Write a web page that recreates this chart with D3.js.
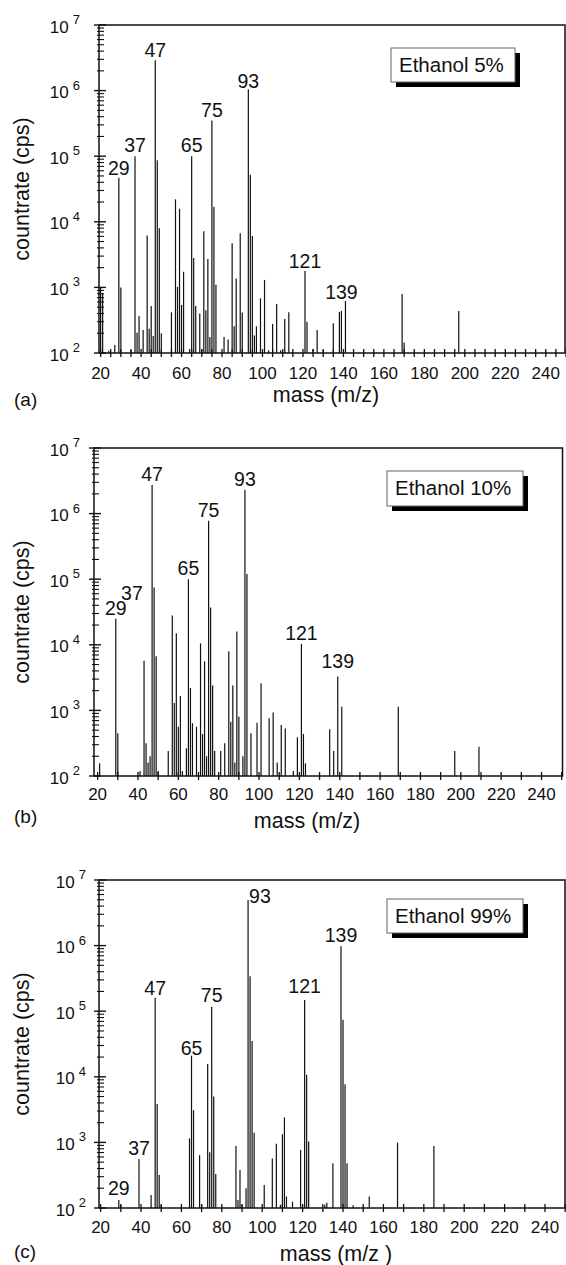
<!DOCTYPE html>
<html>
<head>
<meta charset="utf-8">
<script src="https://cdn.jsdelivr.net/npm/d3@7"></script>
<style>
  body { margin: 0; background: #fff; }
  text { font-family: "Liberation Sans", Arial, Helvetica, sans-serif; fill: #111; }
</style>
</head>
<body>
<svg id="chart" width="566" height="1265"></svg>
<script>
// Spectrum (a): ethanol 5%
const massA = [20, 21, 24, 27, 29, 30, 35, 37, 38, 39, 41, 43, 44, 45, 46, 47, 48, 49, 50, 55, 57, 58, 59, 60, 61,
  64, 65, 66, 67, 69, 70, 71, 72, 73, 74, 75, 76, 77, 81, 83, 85, 86, 87, 89, 90, 93, 94, 95, 96, 97, 99, 101,
  103, 105, 107, 109, 111, 113, 121, 122, 125, 127, 130, 135, 138, 139, 141, 169, 170, 197];
const countA = [1000, 800, 108, 132, 47000, 1000, 110, 100000, 204, 367, 224, 6200, 235, 520, 182, 2900000, 87000,
  8000, 200, 417, 22000, 1020, 15800, 540, 1730, 115, 100000, 2800, 520, 400, 115, 7200, 450, 2700, 175, 350000,
  17000, 1100, 175, 160, 4700, 255, 1370, 6700, 415, 1050000, 52000, 6100, 185, 255, 680, 1300, 110, 277, 560,
  110, 330, 417, 1780, 300, 115, 224, 110, 284, 420, 437, 620, 794, 144, 437];

// Spectrum (b): ethanol 10%
const massB = [21, 29, 30, 41, 43, 44, 45, 46, 47, 48, 49, 50, 55, 57, 58, 59, 60, 61, 62, 64, 65, 66, 67, 69, 71,
  72, 73, 74, 75, 76, 77, 78, 81, 83, 85, 86, 87, 88, 89, 90, 92, 93, 94, 96, 99, 101, 105, 107, 109, 111, 113,
  117, 119, 121, 122, 123, 135, 137, 139, 141, 169, 197, 209];
const countB = [156, 25000, 447, 119, 5700, 315, 160, 200, 2730000, 75000, 6700, 119, 240, 28000, 1300, 15000, 565,
  1660, 119, 264, 100000, 2200, 637, 565, 10500, 437, 5600, 200, 780000, 37000, 2400, 240, 240, 315, 8000, 670,
  2400, 160, 16000, 800, 200, 2300000, 120000, 447, 650, 2600, 760, 925, 160, 600, 530, 119, 390, 10300, 437,
  156, 515, 240, 3300, 1140, 1140, 240, 280];

// Spectrum (c): ethanol 99%
const massC = [29, 30, 39, 45, 47, 48, 49, 50, 64, 65, 66, 69, 70, 73, 74, 75, 76, 77, 87, 88, 89, 90, 92, 93, 94,
  95, 96, 101, 105, 107, 109, 110, 111, 112, 115, 119, 121, 122, 123, 131, 132, 135, 139, 140, 141, 142, 145,
  153, 167, 185];
const countC = [132, 112, 558, 158, 160000, 3850, 318, 112, 1150, 21000, 3100, 640, 112, 15700, 705, 117000, 5000,
  330, 880, 132, 380, 112, 200, 4960000, 340000, 35000, 1400, 225, 570, 950, 112, 1330, 2400, 150, 125, 765,
  148000, 10700, 1030, 112, 120, 480, 980000, 74000, 7700, 480, 110, 150, 990, 880];

// Peak labels: text, mass it stands over, countrate it sits on
const labelTextA = ["29", "37", "47", "65", "75", "93", "121", "139"];
const labelMassA = [29, 37, 47, 65, 75, 93, 121, 139];
const labelCountA = [45000, 100000, 2800000, 100000, 340000, 950000, 1720, 580];

const labelTextB = ["29", "37", "47", "65", "75", "93", "121", "139"];
const labelMassB = [29, 37, 47, 65, 75, 93, 121, 139];
const labelCountB = [25000, 42000, 2730000, 100000, 780000, 2300000, 10300, 3850];

const labelTextC = ["29", "37", "47", "65", "75", "93", "121", "139"];
const labelMassC = [29, 39, 47, 65, 75, 93, 121, 139];
const labelCountC = [137, 558, 153000, 18600, 120000, 4960000, 165000, 1000000];

const xTickValues = [20, 40, 60, 80, 100, 120, 140, 160, 180, 200, 220, 240];
const yDecades = [2, 3, 4, 5, 6, 7];
const panelNames = ["(a)", "(b)", "(c)"];
const boxTexts = ["Ethanol 5%", "Ethanol 10%", "Ethanol 99%"];
const xTitles = ["mass (m/z)", "mass (m/z)", "mass (m/z )"];
const yTitle = "countrate (cps)";

// Where each panel sits on the page
const layout = [
  { left: 99, right: 565, top: 25, bottom: 353, lo: 19.2, hi: 249.5, step: 5, tickY: 26, expX: 80,
    box: [391, 48, 124, 34], titleX: 326, titleY: 402, nameY: 406 },
  { left: 94, right: 562.5, top: 448, bottom: 776, lo: 18.2, hi: 250.4, step: 10, tickY: 24, expX: 80,
    box: [387, 471, 136, 35], titleX: 307, titleY: 828, nameY: 823 },
  { left: 99, right: 565, top: 880, bottom: 1208, lo: 19.2, hi: 249.9, step: 10, tickY: 25, expX: 86,
    box: [387, 899, 136, 34], titleX: 336, titleY: 1261, nameY: 1258 }
];

const spectra = [
  { mass: massA, count: countA, lt: labelTextA, lm: labelMassA, lc: labelCountA },
  { mass: massB, count: countB, lt: labelTextB, lm: labelMassB, lc: labelCountB },
  { mass: massC, count: countC, lt: labelTextC, lm: labelMassC, lc: labelCountC }
];

const svg = d3.select("#chart");
const ink = "#111";

spectra.forEach((s, i) => {
  const L = layout[i];
  const g = svg.append("g");

  const x = d3.scaleLinear().domain([L.lo, L.hi]).range([L.left, L.right]);
  const y = d3.scaleLog().domain([100, 1e7]).range([L.bottom, L.top]);

  // Stick spectrum
  g.append("g")
    .selectAll("line")
    .data(d3.range(s.mass.length))
    .join("line")
    .attr("x1", (k) => x(s.mass[k]))
    .attr("x2", (k) => x(s.mass[k]))
    .attr("y1", y(100))
    .attr("y2", (k) => y(s.count[k]))
    .attr("stroke", "#111")
    .attr("stroke-width", 1.2);

  // Frame: left axis, bottom axis, top and right border
  g.append("path")
    .attr("d", `M${L.left},${L.bottom}V${L.top}H${L.right}V${L.bottom}H${L.left}`)
    .attr("fill", "none")
    .attr("stroke", ink)
    .attr("stroke-width", 1.5);

  // x ticks crossing the axis
  const xt = d3.range(20, 251, L.step);
  g.append("g")
    .selectAll("line")
    .data(xt)
    .join("line")
    .attr("x1", (d) => x(d))
    .attr("x2", (d) => x(d))
    .attr("y1", L.bottom - 4)
    .attr("y2", L.bottom + 4)
    .attr("stroke", ink)
    .attr("stroke-width", 1.3);

  g.append("g")
    .selectAll("text")
    .data(xTickValues)
    .join("text")
    .attr("x", (d) => x(d))
    .attr("y", L.bottom + L.tickY)
    .attr("text-anchor", "middle")
    .style("font-size", "17px")
    .text((d) => d);

  // y ticks: decades and the 2..9 minors between them
  const minors = [];
  yDecades.slice(0, -1).forEach((e) => {
    for (let m = 2; m <= 9; m++) minors.push(m * Math.pow(10, e));
  });
  g.append("g")
    .selectAll("line")
    .data(minors)
    .join("line")
    .attr("x1", L.left - 2)
    .attr("x2", L.left + 5)
    .attr("y1", (d) => y(d))
    .attr("y2", (d) => y(d))
    .attr("stroke", ink)
    .attr("stroke-width", 1.1);

  g.append("g")
    .selectAll("line")
    .data(yDecades)
    .join("line")
    .attr("x1", L.left - 5)
    .attr("x2", L.left + 7)
    .attr("y1", (e) => y(Math.pow(10, e)))
    .attr("y2", (e) => y(Math.pow(10, e)))
    .attr("stroke", ink)
    .attr("stroke-width", 1.4);

  yDecades.forEach((e) => {
    const t = g.append("text")
      .attr("x", L.expX)
      .attr("y", y(Math.pow(10, e)) + 7.5)
      .attr("text-anchor", "end")
      .style("font-size", "17px");
    t.append("tspan").text("10");
    t.append("tspan").attr("dx", 4).attr("dy", -8.5).style("font-size", "13px").text(e);
  });

  // Peak labels; when a label would hit the top border it goes beside the stick
  s.lt.forEach((txt, k) => {
    const px = x(s.lm[k]);
    const py = y(s.lc[k]);
    const beside = py - 22 < L.top;
    g.append("text")
      .attr("x", beside ? px + 1 : px)
      .attr("y", beside ? py + 3 : py - 4)
      .attr("text-anchor", beside ? "start" : "middle")
      .style("font-size", "19.5px")
      .text(txt);
  });

  // Legend box with drop shadow
  const [bx, by, bw, bh] = L.box;
  g.append("rect").attr("x", bx + 5).attr("y", by + 5).attr("width", bw).attr("height", bh).attr("fill", "#000");
  g.append("rect").attr("x", bx).attr("y", by).attr("width", bw).attr("height", bh)
    .attr("fill", "#fff").attr("stroke", "#666").attr("stroke-width", 1);
  g.append("text").attr("x", bx + 8).attr("y", by + 23.7).style("font-size", "20.5px").text(boxTexts[i]);

  // Axis titles and panel letter
  g.append("text")
    .attr("transform", `translate(29,${(L.top + L.bottom) / 2}) rotate(-90)`)
    .attr("text-anchor", "middle")
    .style("font-size", "21.5px")
    .text(yTitle);

  g.append("text")
    .attr("x", L.titleX)
    .attr("y", L.titleY)
    .attr("text-anchor", "middle")
    .style("font-size", "21.5px")
    .text(xTitles[i]);

  g.append("text")
    .attr("x", 14)
    .attr("y", L.nameY)
    .style("font-size", "19px")
    .text(panelNames[i]);
});
</script>
</body>
</html>
